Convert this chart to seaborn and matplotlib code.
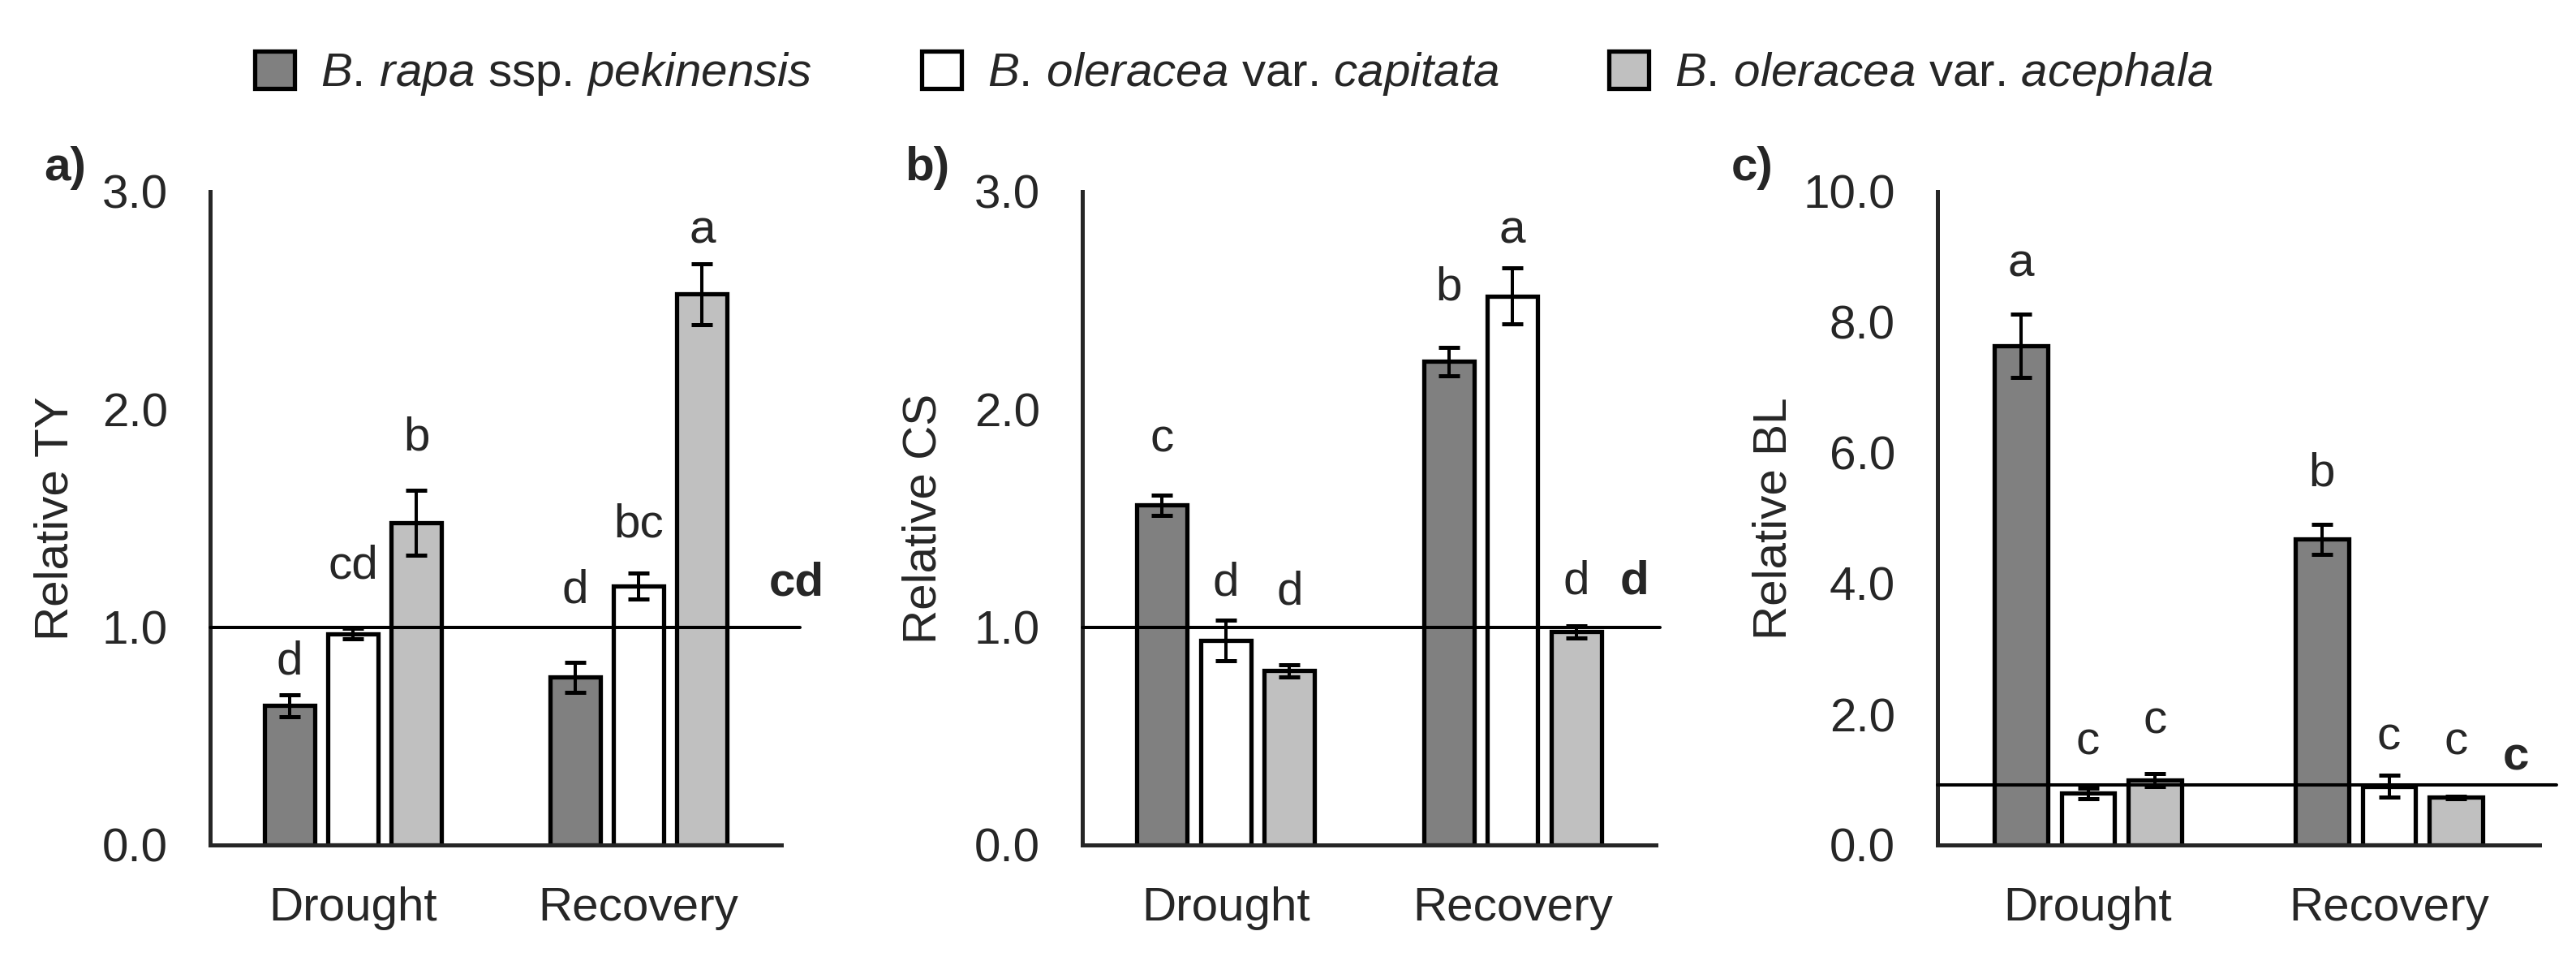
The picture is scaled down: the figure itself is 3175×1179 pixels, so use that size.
"""
Relative TY / CS / BL of three Brassica crops under drought and recovery.
"""

import numpy as np
import pandas as pd
import matplotlib
matplotlib.use("Agg")
import matplotlib.pyplot as plt
from matplotlib.patches import Patch
import seaborn as sns


# =========================
# Data
# =========================

conditions = ["Drought", "Recovery"]
cultivars = ["pekinensis", "capitata", "acephala"]
legend_labels = [
    r"$\mathit{B.\,rapa}$ ssp. $\mathit{pekinensis}$",
    r"$\mathit{B.\,oleracea}$ var. $\mathit{capitata}$",
    r"$\mathit{B.\,oleracea}$ var. $\mathit{acephala}$",
]
colors = ["#808080", "#ffffff", "#c0c0c0"]

# order: Drought (3 cultivars), then Recovery (3 cultivars)
ty_mean = [0.64, 0.97, 1.48, 0.77, 1.19, 2.53]
ty_se = [0.05, 0.025, 0.15, 0.07, 0.06, 0.14]
ty_letters = ["d", "cd", "b", "d", "bc", "a"]
ty_control = 1.0
ty_control_letter = "cd"

cs_mean = [1.56, 0.94, 0.80, 2.22, 2.52, 0.98]
cs_se = [0.046, 0.094, 0.028, 0.066, 0.128, 0.028]
cs_letters = ["c", "d", "d", "b", "a", "d"]
cs_control = 1.0
cs_control_letter = "d"

bl_mean = [7.64, 0.79, 0.99, 4.68, 0.90, 0.73]
bl_se = [0.49, 0.08, 0.10, 0.23, 0.17, 0.02]
bl_letters = ["a", "c", "c", "b", "c", "c"]
bl_control = 0.92
bl_control_letter = "c"

# letter heights (data units)
ty_letter_y = [0.84, 1.28, 1.87, 1.17, 1.47, 2.82]
cs_letter_y = [1.86, 1.20, 1.16, 2.56, 2.82, 1.21]
bl_letter_y = [8.89, 1.57, 1.90, 5.68, 1.64, 1.57]


FS = 42
LW = 3.6


def draw_panel(ax, means, ses, letters, letter_y, control, control_letter,
               control_xy, line_ext, ymax, ystep, ylabel, ylabel_x):
    """
    Dibuja un panel de barras con errores, letras y línea de control.
    """

    df = pd.DataFrame({
        "condition": np.repeat(conditions, len(cultivars)),
        "cultivar": cultivars * len(conditions),
        "value": means,
    })

    sns.barplot(
        data=df,
        x="condition",
        y="value",
        hue="cultivar",
        order=conditions,
        hue_order=cultivars,
        palette=colors,
        edgecolor="black",
        linewidth=3.8,
        width=0.667,
        gap=0.21,
        errorbar=None,
        legend=False,
        ax=ax,
    )

    centers = sorted(p.get_x() + p.get_width() / 2 for p in ax.patches)

    ax.errorbar(centers, means, yerr=ses, fmt="none", ecolor="black",
                elinewidth=2.9, capsize=9.7, capthick=3.6, zorder=3)

    for x, lab, y in zip(centers, letters, letter_y):
        ax.text(x, y, lab, ha="center", va="center", fontsize=FS)

    ax.axhline(control, xmin=0, xmax=line_ext, color="black", lw=2.9,
               clip_on=False, zorder=4)
    ax.text(control_xy[0], control_xy[1], control_letter, ha="center",
            va="center", fontsize=FS, fontweight="bold")

    yticks = np.arange(0, ymax + ystep / 2, ystep)
    ax.set_ylim(0, ymax)
    ax.set_yticks(yticks)
    ax.set_yticklabels([f"{t:.1f}" for t in yticks])

    ax.set_xlim(-0.5, 1.5)
    ax.set_xticks([0, 1])
    ax.set_xticklabels(conditions)
    ax.set_xticks([-0.5, 0.5, 1.5], minor=True)

    ax.tick_params(axis="x", which="major", length=0, pad=37, labelsize=FS)
    ax.tick_params(axis="x", which="minor", direction="inout", length=24.5,
                   width=2.9)
    ax.tick_params(axis="y", direction="out", length=11.5, width=2.9,
                   pad=26, labelsize=FS)

    ax.set_xlabel("")
    ax.set_ylabel("")
    ax.text(ylabel_x, 0.5, ylabel, rotation=90, ha="center", va="center",
            transform=ax.transAxes, fontsize=FS)

    sns.despine(ax=ax)
    ax.spines["left"].set_linewidth(LW)
    ax.spines["bottom"].set_linewidth(LW)


def main():
    sns.set_style("white")
    plt.rcParams["font.family"] = ["Liberation Sans", "DejaVu Sans"]
    plt.rcParams["mathtext.fontset"] = "custom"
    plt.rcParams["mathtext.rm"] = "Liberation Sans"
    plt.rcParams["mathtext.it"] = "Liberation Sans:italic"
    plt.rcParams["mathtext.bf"] = "Liberation Sans:bold"

    W, H = 3175, 1179
    fig = plt.figure(figsize=(W / 100, H / 100), dpi=100)

    bottom = 138 / H
    height = 805 / H
    ax_a = fig.add_axes([259 / W, bottom, 704 / W, height])
    ax_b = fig.add_axes([1334 / W, bottom, 707 / W, height])
    ax_c = fig.add_axes([2388 / W, bottom, 742 / W, height])

    draw_panel(ax_a, ty_mean, ty_se, ty_letters, ty_letter_y, ty_control,
               ty_control_letter, (1.554, 1.20), 1.033, 3.0, 1.0,
               "Relative TY", -0.27)
    draw_panel(ax_b, cs_mean, cs_se, cs_letters, cs_letter_y, cs_control,
               cs_control_letter, (1.424, 1.21), 1.007, 3.0, 1.0,
               "Relative CS", -0.276)
    draw_panel(ax_c, bl_mean, bl_se, bl_letters, bl_letter_y, bl_control,
               bl_control_letter, (1.422, 1.34), 1.028, 10.0, 2.0,
               "Relative BL", -0.272)

    for x, lab in zip([80, 1143, 2160], ["a)", "b)", "c)"]):
        fig.text(x / W, 1 - 207 / H, lab, ha="center", va="center",
                 fontsize=FS, fontweight="bold")

    handles = [Patch(facecolor=c, edgecolor="black", linewidth=3.8)
               for c in colors]
    fig.legend(handles, legend_labels, loc="center",
               bbox_to_anchor=(0.479, 1 - 91 / H), ncol=3, frameon=False,
               fontsize=FS, handlelength=0.85, handleheight=0.85,
               handletextpad=0.55, columnspacing=2.3)

    fig.savefig("out.png", dpi=100)
    plt.close(fig)


if __name__ == "__main__":
    main()
